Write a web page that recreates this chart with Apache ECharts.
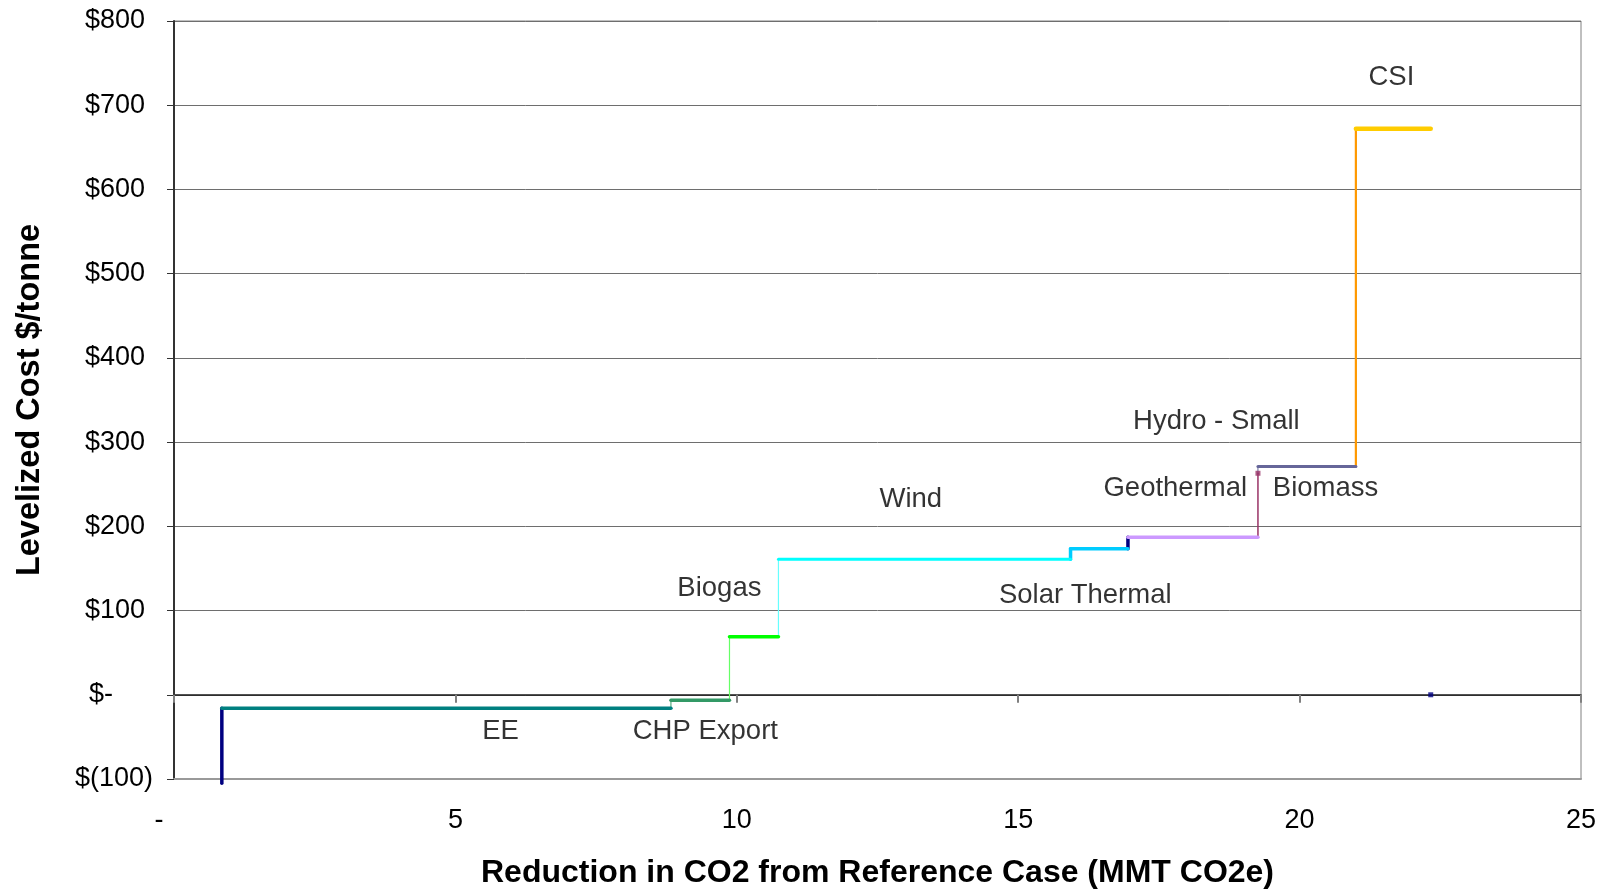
<!DOCTYPE html>
<html>
<head>
<meta charset="utf-8">
<script src="https://cdn.jsdelivr.net/npm/echarts@6/dist/echarts.min.js"></script>
<style>
  html, body { margin: 0; padding: 0; background: #ffffff; }
  #chart { width: 1606px; height: 890px; }
</style>
</head>
<body>
<div id="chart"></div>
<script>
// Abatement measures, in order along the cost curve
const measures = ['EE', 'CHP Export', 'Biogas', 'Wind', 'Solar Thermal', 'Geothermal', 'Biomass', 'Hydro - Small', 'CSI'];
// Cumulative CO2 reduction where each measure starts and ends (MMT CO2e)
const startX = [0.85, 8.83, 9.87, 10.74, 15.93, 16.95, 19.26, 19.26, 21.0];
const endX   = [8.83, 9.87, 10.74, 15.93, 16.95, 19.26, 19.26, 21.0, 22.33];
// Levelized cost of each measure ($/tonne)
const cost   = [-16, -6.5, 69, 161, 173.5, 187, 263, 271, 672];
// The first riser starts just below the axis floor
const curveFloor = -105;
// End of the curve marker
const curveEnd = [22.33, 0];

// Axis tick values
const xTicks = [0, 5, 10, 15, 20, 25];
const yTicks = [-100, 0, 100, 200, 300, 400, 500, 600, 700, 800];

// Where each measure's name is written (data coordinates)
const labelAnchor = [
  [5.81, -44], [9.45, -44], [9.70, 126], [13.10, 231], [16.20, 117],
  [17.80, 244], [20.47, 244], [18.53, 324], [21.64, 733]
];

// Styles
const stepColor  = ['#008080', '#339966', '#00ff00', '#00ffff', '#00ccff', '#cc99ff', '#993366', '#666699', '#ffcc00'];
const stepWidth  = [3.5, 3.5, 3.5, 3, 3.5, 3.5, 1.5, 3, 4.5];
const riserColor = ['#000080', '#339966', '#66ff66', '#66ffff', '#00ccff', '#000080', '#993366', '#666699', '#ff9900'];
const riserWidth = [3.5, 1, 1.2, 1.2, 3.5, 3.5, 1.5, 1, 2.2];

const FONT = 'Liberation Sans, Arial, sans-serif';
const yMin = yTicks[0], yMax = yTicks[yTicks.length - 1];
const xMin = xTicks[0], xMax = xTicks[xTicks.length - 1];

const series = [];
measures.forEach((name, i) => {
  const prev = i === 0 ? curveFloor : cost[i - 1];
  // vertical riser up to this measure's cost
  series.push({
    type: 'line', name: name + ' riser', xAxisIndex: 0,
    data: [[startX[i], prev], [startX[i], cost[i]]],
    symbol: 'none', silent: true, z: 3, clip: false,
    lineStyle: { color: riserColor[i], width: riserWidth[i], cap: 'round' }
  });
  // horizontal step across the measure's reduction
  if (endX[i] > startX[i]) {
    series.push({
      type: 'line', name: name, xAxisIndex: 0,
      data: [[startX[i], cost[i]], [endX[i], cost[i]]],
      symbol: 'none', silent: true, z: 4,
      lineStyle: { color: stepColor[i], width: stepWidth[i], cap: 'round' }
    });
  } else {
    series.push({
      type: 'scatter', name: name, xAxisIndex: 0,
      data: [[startX[i], cost[i]]],
      symbol: 'rect', symbolSize: 5, silent: true, z: 5,
      itemStyle: { color: stepColor[i] }
    });
  }
});

series.push({
  type: 'scatter', name: 'end', xAxisIndex: 0,
  data: [curveEnd], symbol: 'rect', symbolSize: 5, silent: true, z: 5,
  itemStyle: { color: '#000080' }
});

series.push({
  type: 'scatter', name: 'labels', xAxisIndex: 0,
  data: measures.map((m, i) => ({ name: m, value: labelAnchor[i] })),
  symbolSize: 1, silent: true, z: 6,
  itemStyle: { color: 'rgba(0,0,0,0)' },
  label: {
    show: true, position: [0, 0], align: 'center', verticalAlign: 'middle',
    formatter: p => p.name,
    color: '#000000', fontFamily: FONT, fontSize: 27.5,
    textBorderWidth: 0
  }
});

function yLabel(v) {
  if (v < 0) return '{n|$(' + Math.abs(v) + ')}';
  if (v === 0) return '{z|$-}';
  return '{p|$' + v + '}';
}

const option = {
  animation: false,
  backgroundColor: '#ffffff',
  grid: {
    left: 174, top: 21, right: 25, bottom: 111,
    outerBoundsMode: 'none', containLabel: false,
    show: true, borderColor: '#808080', borderWidth: 1, backgroundColor: 'transparent'
  },
  xAxis: [
    {
      type: 'value', min: xMin, max: xMax, interval: 5, position: 'bottom',
      axisLine: { show: true, onZero: true, lineStyle: { color: '#1a1a1a', width: 1.5 } },
      axisTick: { show: true, length: 8, lineStyle: { color: '#808080', width: 2 } },
      axisLabel: { show: false },
      splitLine: { show: false }
    },
    {
      type: 'value', min: xMin, max: xMax, interval: 5, position: 'bottom',
      axisLine: { show: true, onZero: false, lineStyle: { color: '#999999', width: 2 } },
      axisTick: { show: false },
      splitLine: { show: false },
      axisLabel: {
        show: true, margin: 28, fontFamily: FONT, fontSize: 27, color: '#000000',
        formatter: v => v === 0 ? '{d|-}' : String(v),
        rich: { d: { fontFamily: FONT, fontSize: 27, color: '#000000', padding: [0, 30, 0, 0] } }
      },
      name: 'Reduction in CO2 from Reference Case (MMT CO2e)',
      nameLocation: 'middle', nameGap: 78,
      nameTextStyle: { fontFamily: FONT, fontSize: 32, fontWeight: 'bold', color: '#000000' }
    }
  ],
  yAxis: {
    type: 'value', min: yMin, max: yMax, interval: 100,
    axisLine: { show: true, lineStyle: { color: '#333333', width: 2 } },
    axisTick: { show: true, inside: false, length: 7, lineStyle: { color: '#333333', width: 1 } },
    splitLine: { show: true, lineStyle: { color: '#6e6e6e', width: 1 } },
    axisLabel: {
      margin: 21, formatter: yLabel,
      rich: {
        n: { fontFamily: FONT, fontSize: 27, color: '#000000' },
        p: { fontFamily: FONT, fontSize: 27, color: '#000000', padding: [0, 8, 0, 0] },
        z: { fontFamily: FONT, fontSize: 27, color: '#000000', padding: [0, 40, 0, 0] }
      }
    },
    name: 'Levelized Cost $/tonne', nameLocation: 'middle', nameRotate: 90, nameGap: 127,
    nameTextStyle: { fontFamily: FONT, fontSize: 32.5, fontWeight: 'bold', color: '#000000' }
  },
  series: series
};

const chart = echarts.init(document.getElementById('chart'), null, { renderer: 'canvas' });
chart.setOption(option);
</script>
</body>
</html>
